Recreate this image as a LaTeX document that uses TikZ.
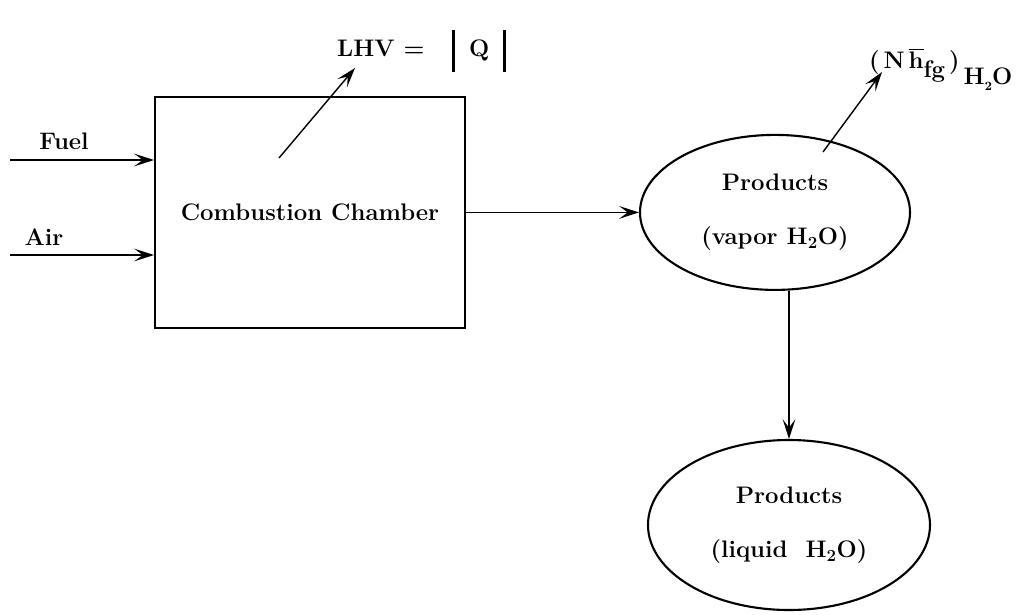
\documentclass[tikz,border=0pt]{standalone}
\usepackage{tikz}
\usetikzlibrary{shapes.geometric, arrows.meta, positioning, calc}
\tikzset{
    font=\bfseries\fontsize{17}{20}\selectfont,
    >={Stealth[length=14pt, width=9pt, inset=6pt]},
    % Shapes
    chamber/.style={rectangle, draw, line width=1.5pt, minimum width=7.75cm, minimum height=5.775cm, align=center},
    prod/.style={ellipse, draw, line width=1.5pt, align=center, inner sep=0pt},
    % Flow & Labels
    flow/.style={->, line width=1pt},
    lbl/.style={inner sep=2pt, align=center}
}
\newcommand{\absbar}{\rule[-11pt]{1.8pt}{30pt}}
\begin{document}
\begin{tikzpicture}
\useasboundingbox (0,0) rectangle (25.8,-15.35);

\node[chamber] (cc) at (7.75,-5.31) {Combustion Chamber};
\node[prod, minimum width=6.75cm, minimum height=3.875cm] (vap) at (19.375,-5.31)
    {Products\\[0.65cm](vapor H$_{\mathbf 2}$O)};
\node[prod, minimum width=7.05cm, minimum height=4.25cm] (liq) at (19.725,-13.125)
    {Products\\[0.65cm](liquid\ \ H$_{\mathbf 2}$O)};

% inlet streams
\coordinate (fuelin) at (0.25,-4.0);
\coordinate (airin) at (0.25,-6.375);
\draw[flow] (fuelin) -- (fuelin -| cc.west);
\draw[flow] (airin) -- (airin -| cc.west);
\node[lbl] (fuel) at (1.6,-3.52) {Fuel};
\node[lbl] (air) at (1.1,-5.93) {Air};

% heat released
\node[lbl, anchor=base west] (lhv) at (8.35,-1.42)
    {LHV =\hspace{0.7cm}\absbar\hspace{0.35cm}Q\hspace{0.35cm}\absbar};
\coordinate (qtail) at (6.975,-3.95);
\coordinate (qtip) at (8.875,-1.7);
\draw[flow] (qtail) -- (qtip);

% products
\draw[flow] (cc.east) -- (vap.west);
\draw[flow] (liq.north |- vap.south) -- (liq.north);

% condensation
\node[lbl, anchor=base west] (hfg) at (21.65,-1.7)
    {(\,N\,$\overline{\mbox{h}}$\raisebox{-6.5pt}{fg}\,)\,\raisebox{-12pt}{H\raisebox{-4pt}{\small 2}O}};
\coordinate (htail) at (20.575,-3.8);
\coordinate (htip) at (22.05,-1.8);
\draw[flow] (htail) -- (htip);

\end{tikzpicture}
\end{document}
